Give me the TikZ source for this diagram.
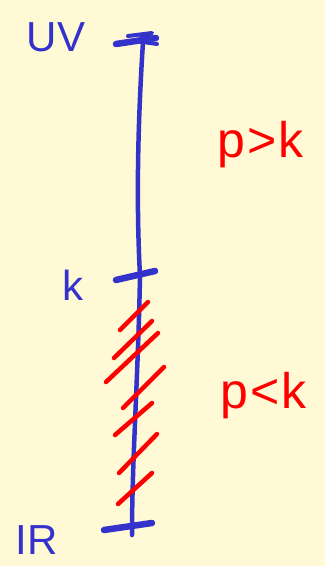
\documentclass[tikz,border=0pt]{standalone}
\usepackage{fontspec}
\setmainfont{Liberation Sans}
\definecolor{bg}{HTML}{FFF9D6}
\definecolor{pen}{HTML}{3333CC}
\definecolor{ink}{HTML}{FF0000}
\tikzset{
  blueline/.style={draw=pen, line width=4.5pt, line cap=round, line join=round},
  tickline/.style={draw=pen, line width=6.5pt, line cap=round},
  hatch/.style={draw=ink, line width=4.5pt, line cap=round},
  bluelabel/.style={text=pen, inner sep=0pt, font=\fontsize{42}{42}\selectfont},
  redlabel/.style={text=ink, inner sep=0pt, font=\fontsize{50}{50}\selectfont},
}
\begin{document}
\begin{tikzpicture}[x=1pt,y=-1pt]
\fill[bg] (0,0) rectangle (325,566);
\useasboundingbox (0,0) rectangle (325,566);
% axis
\coordinate (top) at (143,42);
\coordinate (kpt) at (140,276);
\coordinate (bot) at (132,535);
\draw[blueline] (top) .. controls (138,120) and (136,200) .. (kpt)
  .. controls (138,380) and (132,460) .. (bot);
% ticks
\coordinate (t1) at (116,44); \coordinate (t2) at (156,38);
\coordinate (t3) at (128,36); \coordinate (t4) at (152,33);
\draw[tickline] (t1) -- (t2);
\draw[pen, line width=4pt, line cap=round, line join=round] (t3) -- (t4) -- (136,41) -- (157,44);
\coordinate (m1) at (116,280); \coordinate (m2) at (155,271);
\draw[tickline] (m1) -- (m2);
\coordinate (b1) at (104,530); \coordinate (b2) at (152,523);
\draw[tickline] (b1) -- (b2);
% hatching
\foreach \ax/\ay/\bx/\by [count=\i] in {148/302/120/330, 152/321/114/358, 158/333/106/382,
  164/367/123/408, 152/403/115/435, 157/434/119/473, 152/473/118/504}{
  \coordinate (ha\i) at (\ax,\ay);
  \coordinate (hb\i) at (\bx,\by);
  \draw[hatch] (ha\i) -- (hb\i);
}
% labels
\node[bluelabel] (uv) at (56,37) {UV};
\node[bluelabel] (k) at (73,285) {k};
\node[bluelabel] (ir) at (37,540) {IR};
\node[redlabel] (pgk) at (261,145) {p\kern2pt>\kern2pt k};
\node[redlabel] (plk) at (264,396) {p\kern2pt<\kern2pt k};
\end{tikzpicture}
\end{document}
